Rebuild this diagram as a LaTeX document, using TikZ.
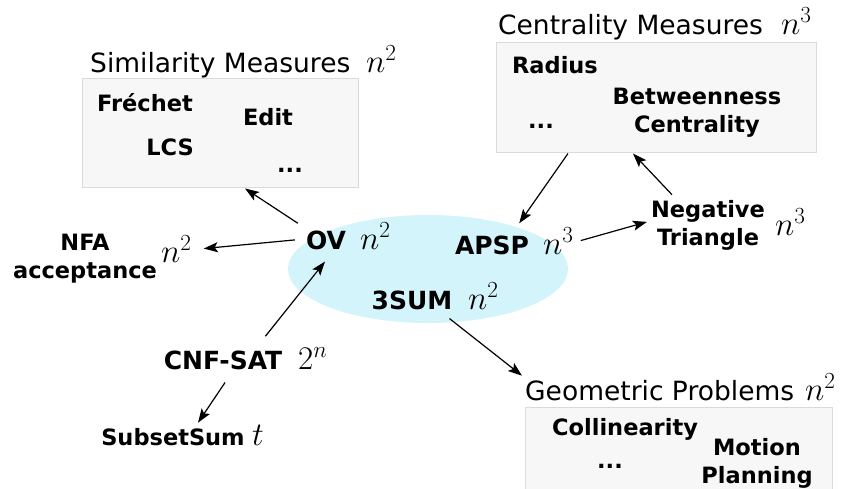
\RequirePackage{fix-cm}
\documentclass[tikz,border=0pt]{standalone}
\usepackage{fontspec}
\setsansfont{DejaVu Sans}
\usetikzlibrary{arrows.meta}
\definecolor{ellfill}{HTML}{D4F4FC}
\definecolor{boxfill}{HTML}{F7F7F7}
\definecolor{boxline}{HTML}{DADADA}
\begin{document}
\begin{tikzpicture}[x=1pt,y=-1pt,
  title/.style={font=\sffamily\fontsize{26.5}{31}\selectfont, inner sep=0pt, anchor=base west},
  cplx/.style={font=\fontsize{33}{38}\selectfont, inner sep=0pt, anchor=base west},
  mainp/.style={font=\sffamily\bfseries\fontsize{25}{30}\selectfont, inner sep=0pt, anchor=base},
  subp/.style={font=\sffamily\bfseries\fontsize{22.5}{28}\selectfont, inner sep=0pt, anchor=base, align=center},
  group/.style={draw=boxline, fill=boxfill, line width=1pt, inner sep=0pt},
  arr/.style={-{Stealth[length=14pt,width=10pt,inset=3pt]}, line width=1.2pt},
]
\path[use as bounding box] (0,0) rectangle (844,488);
\clip (0,0) rectangle (844,488);

% central ellipse
\fill[ellfill] (428,269) ellipse [x radius=140, y radius=54];

% group boxes
\node[group, minimum width=276pt, minimum height=109pt] (simbox) at (220,132.5) {};
\node[group, minimum width=320pt, minimum height=110pt] (centbox) at (656,97) {};
\node[group, minimum width=307pt, minimum height=100pt] (geobox) at (678.5,457) {};

% titles
\node[title] (simt) at (90,72) {Similarity Measures};
\node[cplx] (simc) at (366,72) {$n^2$};
\node[title] (centt) at (498,34) {Centrality Measures};
\node[cplx] (centc) at (781,34) {$n^3$};
\node[title] (geot) at (525,400) {Geometric Problems};
\node[cplx] (geoc) at (805,400) {$n^2$};

% box contents
\node[subp] (frechet) at (145,111) {Fréchet};
\node[subp] (edit) at (268,125) {Edit};
\node[subp] (lcs) at (170,155) {LCS};
\node[subp] (simdots) at (290,172) {...};
\node[subp] (radius) at (555,73) {Radius};
\node[subp] (betw) at (697,132) {Betweenness\\Centrality};
\node[subp] (centdots) at (541,128) {...};
\node[subp] (coll) at (625,435) {Collinearity};
\node[subp] (motion) at (757,483) {Motion\\Planning};
\node[subp] (geodots) at (610,468) {...};

% problems
\node[mainp] (ov) at (326,249) {OV};
\node[cplx] (ovc) at (360,249) {$n^2$};
\node[mainp] (apsp) at (492,254) {APSP};
\node[cplx] (apspc) at (543,254) {$n^3$};
\node[mainp] (sum3) at (412,309) {3SUM};
\node[cplx] (sum3c) at (468,309) {$n^2$};
\node[mainp] (cnf) at (223,369) {CNF-SAT};
\node[cplx] (cnfc) at (298,369) {$2^n$};
\node[subp] (nfa) at (85,278) {NFA\\acceptance};
\node[cplx] (nfac) at (161,262) {$n^2$};
\node[subp] (neg) at (708,245) {Negative\\Triangle};
\node[cplx] (negc) at (775,235) {$n^3$};
\node[subp] (subset) at (173,445) {SubsetSum};
\node[cplx] (subsetc) at (252,445) {$t$};

% connectors
\draw[arr] ([shift={(-8pt,7pt)}]ov.north west) -- ([xshift=25pt,yshift=-1pt]simbox.south);
\draw[arr] ([xshift=-11pt]ov.west) -- ([xshift=12pt]nfac.east);
\draw[arr] ([shift={(-17pt,14pt)}]cnf.north east) -- ([shift={(-1pt,-12pt)}]ov.south);
\draw[arr] ([shift={(2pt,-13pt)}]cnf.south) -- ([shift={(25pt,5pt)}]subset.north);
\draw[arr] ([xshift=-88pt,yshift=-1pt]centbox.south) -- ([shift={(-10pt,12pt)}]apsp.north east);
\draw[arr] ([shift={(-36pt,5pt)}]neg.north) -- ([xshift=-23pt,yshift=-1pt]centbox.south);
\draw[arr] ([xshift=7pt]apspc.east) -- ([shift={(-4pt,3pt)}]neg.west);
\draw[arr] ([shift={(-3pt,-9pt)}]sum3.south east) -- ([shift={(-3pt,4pt)}]geot.north west);
\end{tikzpicture}
\end{document}
